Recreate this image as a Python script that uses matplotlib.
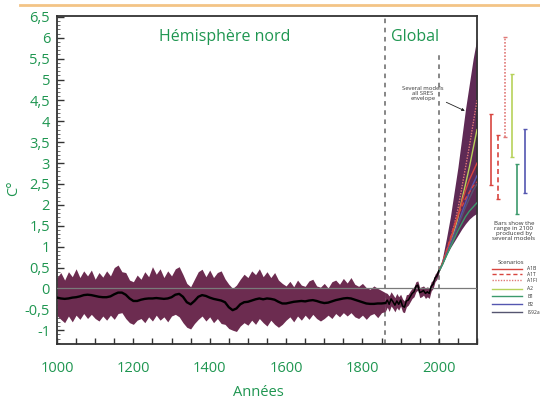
import numpy as np
import matplotlib
matplotlib.use("Agg")
import matplotlib.pyplot as plt
from matplotlib.ticker import FixedLocator, MultipleLocator

plt.rcParams['font.family'] = ['Open Sans', 'DejaVu Sans']

# ---------------- data ----------------
rec_years = list(range(1000, 1861, 10))
rec_smooth = [-0.22, -0.24, -0.25, -0.24, -0.22, -0.21, -0.19, -0.16, -0.15, -0.16,
              -0.18, -0.20, -0.21, -0.21, -0.19, -0.14, -0.10, -0.10, -0.15, -0.24,
              -0.30, -0.30, -0.27, -0.25, -0.24, -0.24, -0.23, -0.24, -0.25, -0.24,
              -0.21, -0.15, -0.13, -0.20, -0.33, -0.38, -0.30, -0.20, -0.16, -0.18,
              -0.22, -0.25, -0.27, -0.29, -0.33, -0.45, -0.52, -0.48, -0.38, -0.33,
              -0.32, -0.29, -0.26, -0.24, -0.26, -0.24, -0.25, -0.27, -0.32, -0.36,
              -0.36, -0.34, -0.32, -0.31, -0.30, -0.31, -0.29, -0.28, -0.30, -0.33,
              -0.35, -0.34, -0.31, -0.28, -0.26, -0.24, -0.23, -0.24, -0.27, -0.30,
              -0.33, -0.36, -0.37, -0.37, -0.36, -0.36, -0.35]
rec_upper = [0.26, 0.38, 0.20, 0.40, 0.28, 0.47, 0.26, 0.42, 0.30, 0.44,
             0.22, 0.38, 0.27, 0.42, 0.30, 0.50, 0.56, 0.40, 0.38, 0.20,
             0.16, 0.32, 0.22, 0.40, 0.28, 0.52, 0.34, 0.47, 0.26, 0.42,
             0.30, 0.47, 0.52, 0.33, 0.12, 0.04, 0.22, 0.40, 0.46, 0.28,
             0.44, 0.26, 0.38, 0.42, 0.23, 0.10, 0.00, 0.08, 0.22, 0.34,
             0.26, 0.42, 0.33, 0.47, 0.28, 0.40, 0.26, 0.38, 0.20, 0.12,
             0.06, 0.17, 0.04, 0.20, 0.08, 0.05, 0.18, 0.22, 0.06, 0.03,
             0.12, 0.01, 0.16, 0.20, 0.10, 0.24, 0.13, 0.26, 0.10, 0.05,
             0.12, 0.02, -0.02, 0.06, 0.00, -0.05, -0.10]
rec_lower = [-0.65, -0.74, -0.82, -0.66, -0.80, -0.64, -0.74, -0.60, -0.72, -0.62,
             -0.72, -0.78, -0.66, -0.76, -0.64, -0.74, -0.60, -0.58, -0.72, -0.82,
             -0.86, -0.76, -0.72, -0.82, -0.68, -0.78, -0.64, -0.76, -0.68, -0.80,
             -0.66, -0.62, -0.68, -0.82, -0.93, -0.97, -0.84, -0.74, -0.66, -0.78,
             -0.68, -0.82, -0.72, -0.84, -0.86, -0.96, -1.00, -1.03, -0.90, -0.82,
             -0.88, -0.76, -0.86, -0.72, -0.82, -0.90, -0.76, -0.86, -0.93, -0.86,
             -0.76, -0.68, -0.80, -0.66, -0.76, -0.64, -0.74, -0.62, -0.72, -0.78,
             -0.72, -0.64, -0.72, -0.60, -0.68, -0.58, -0.66, -0.58, -0.68, -0.72,
             -0.64, -0.74, -0.64, -0.60, -0.70, -0.58, -0.55]

obs_years = list(range(1860, 2001, 5))
obs_temp = [-0.35, -0.28, -0.38, -0.25, -0.32, -0.40, -0.30, -0.38, -0.28, -0.42,
            -0.45, -0.30, -0.28, -0.20, -0.12, -0.08, 0.05, 0.08, -0.10, -0.08,
            -0.05, -0.12, -0.08, -0.12, 0.05, 0.10, 0.25, 0.30, 0.42]
obs_upper = [-0.10, -0.12, -0.18, -0.08, -0.15, -0.22, -0.12, -0.20, -0.14, -0.25,
             -0.30, -0.15, -0.14, -0.06, 0.00, 0.04, 0.16, 0.18, 0.02, 0.04,
             0.06, 0.00, 0.04, 0.00, 0.16, 0.20, 0.34, 0.40, 0.50]
obs_lower = [-0.55, -0.45, -0.55, -0.42, -0.48, -0.56, -0.46, -0.52, -0.42, -0.56,
             -0.58, -0.44, -0.40, -0.32, -0.24, -0.20, -0.08, -0.04, -0.22, -0.20,
             -0.16, -0.24, -0.20, -0.24, -0.06, 0.00, 0.16, 0.22, 0.36]

proj_years = list(range(2000, 2101, 10))
env_upper = [0.40, 0.75, 1.20, 1.70, 2.30, 2.90, 3.60, 4.30, 4.90, 5.50, 6.00]
env_lower = [0.40, 0.60, 0.80, 0.97, 1.12, 1.27, 1.42, 1.55, 1.66, 1.74, 1.80]

scenarios = ['A1B', 'A1T', 'A1FI', 'A2', 'B1', 'B2', 'IS92a']
scen_values = {
    'A1FI': [0.40, 0.60, 0.85, 1.15, 1.50, 1.90, 2.40, 2.90, 3.40, 3.95, 4.50],
    'A2':   [0.40, 0.60, 0.80, 1.05, 1.35, 1.70, 2.10, 2.50, 2.90, 3.35, 3.80],
    'A1B':  [0.40, 0.62, 0.88, 1.15, 1.45, 1.75, 2.05, 2.35, 2.60, 2.80, 3.00],
    'A1T':  [0.40, 0.62, 0.90, 1.20, 1.50, 1.75, 1.95, 2.15, 2.30, 2.45, 2.55],
    'B2':   [0.40, 0.60, 0.82, 1.05, 1.30, 1.55, 1.80, 2.05, 2.30, 2.50, 2.70],
    'B1':   [0.40, 0.58, 0.78, 0.98, 1.18, 1.38, 1.55, 1.72, 1.85, 1.95, 2.05],
    'IS92a': [0.40, 0.58, 0.80, 1.00, 1.25, 1.50, 1.72, 1.95, 2.15, 2.35, 2.50],
}
# range in 2100 (low, high)
bar_scen = ['A1B', 'A1T', 'A1FI', 'A2', 'B1', 'B2']
bar_low = [2.48, 2.14, 3.62, 3.14, 1.79, 2.29]
bar_high = [4.17, 3.67, 6.02, 5.14, 2.98, 3.81]

yticks = [-1, -0.5, 0, 0.5, 1, 1.5, 2, 2.5, 3, 3.5, 4, 4.5, 5, 5.5, 6, 6.5]
ytick_labels = ['-1', '-0,5', '0', '0,5', '1', '1,5', '2', '2,5', '3', '3,5',
                '4', '4,5', '5', '5,5', '6', '6,5']
xticks = [1000, 1200, 1400, 1600, 1800, 2000]

# ---------------- style ----------------
GREEN = '#1f9651'
BAND = '#6c2c50'
scen_style = {
    'A1B': ('#d8453f', '-'),
    'A1T': ('#d8453f', (0, (3, 2))),
    'A1FI': ('#e07a78', (0, (1, 1))),
    'A2': ('#b7d25a', '-'),
    'B1': ('#3c9a6c', '-'),
    'B2': ('#5456b0', '-'),
    'IS92a': ('#555570', '-'),
}

W, H = 540, 400
fig = plt.figure(figsize=(W / 100, H / 100), dpi=100)

def fx(x):
    return x / W

def fy(y):
    return 1 - y / H

YMIN, YMAX = -1.33, 6.52
ax = fig.add_axes([fx(57), fy(344), (477 - 57) / W, (344 - 16) / H])
ax.set_xlim(1000, 2100)
ax.set_ylim(YMIN, YMAX)

# reconstruction band + smooth
ax.fill_between(rec_years, rec_lower, rec_upper, color=BAND, lw=0, zorder=2)
ax.fill_between(obs_years, obs_lower, obs_upper, color=BAND, lw=0, zorder=2)
ax.axhline(0, color='#7a7a7a', lw=0.9, zorder=3)
ax.plot(rec_years, rec_smooth, color='black', lw=1.7, zorder=4)
ax.plot(obs_years, obs_temp, color='black', lw=1.1, zorder=4)

# projections
ax.fill_between(proj_years, env_lower, env_upper, color='#5e2a55', lw=0, zorder=2)
for s in ['A1FI', 'A2', 'A1B', 'B2', 'A1T', 'IS92a', 'B1']:
    c, ls = scen_style[s]
    ax.plot(proj_years, scen_values[s], color=c, ls=ls, lw=1.0, zorder=3)

# reference dashed lines
ax.axvline(1860, color='#666666', lw=1.1, ls=(0, (3, 3)), zorder=1)
ax.vlines(2000, YMIN, 5.65, color='#666666', lw=1.1, ls=(0, (3, 3)), zorder=1)

# axes styling
for sp in ax.spines.values():
    sp.set_color('#333333')
    sp.set_linewidth(1.3)
ax.yaxis.set_major_locator(FixedLocator(yticks))
ax.set_yticklabels(ytick_labels)
ax.yaxis.set_minor_locator(MultipleLocator(0.1))
ax.xaxis.set_major_locator(FixedLocator(xticks))
ax.set_xticklabels([str(v) for v in xticks])
ax.xaxis.set_minor_locator(MultipleLocator(50))
ax.tick_params(axis='y', which='major', direction='in', length=5, width=1,
               colors='#333333', labelcolor=GREEN, labelsize=10.5, pad=5)
ax.tick_params(axis='y', which='minor', direction='in', length=2.5, width=0.6,
               colors='#555555')
ax.tick_params(axis='x', which='both', direction='in', length=4, width=1,
               colors='#333333', labelcolor=GREEN, labelsize=10.5, pad=12)

ax.text(1440, 6.02, 'Hémisphère nord', color=GREEN, fontsize=11.5,
        ha='center', va='center')
ax.text(1938, 6.02, 'Global', color=GREEN, fontsize=11.5,
        ha='center', va='center')

ax.annotate('Several models\nall SRES\nenvelope', xy=(2068, 4.25), xytext=(1958, 4.67),
            fontsize=4.2, color='#333333', ha='center', va='center',
            linespacing=1.05,
            arrowprops=dict(arrowstyle='-|>', color='#222222', lw=0.6,
                            mutation_scale=4, shrinkA=0, shrinkB=0,
                            relpos=(1.0, 0.0)))

fig.text(fx(258), fy(392), 'Années', color=GREEN, fontsize=10.5,
         ha='center', va='center')
fig.text(fx(14), fy(188), 'C°', color=GREEN, fontsize=10.5, rotation=90,
         ha='center', va='center')

# top orange rule
fig.add_artist(plt.Line2D([fx(20), 1], [fy(4.5), fy(4.5)], color='#f3c486',
                          lw=2.0, transform=fig.transFigure))

# side panel bars
ax2 = fig.add_axes([fx(482), fy(344), (540 - 482) / W, (344 - 16) / H])
ax2.set_xlim(0, 58)
ax2.set_ylim(YMIN, YMAX)
ax2.axis('off')
bar_x = [9, 16, 23, 30, 35, 43]
for s, x, lo, hi in zip(bar_scen, bar_x, bar_low, bar_high):
    c, ls = scen_style[s]
    ax2.vlines(x, lo, hi, color=c, lw=1.2, ls=ls)
    ax2.hlines([lo, hi], x - 1.8, x + 1.8, color=c, lw=1.0)

fig.text(fx(514), fy(231), 'Bars show the\nrange in 2100\nproduced by\nseveral models',
         fontsize=4.4, color='#333333', ha='center', va='center', linespacing=1.05)
fig.text(fx(511), fy(262), 'Scenarios', fontsize=4.2, color='#333333',
         ha='center', va='center')
leg_y = [269, 274, 280, 289, 296, 304, 312]
for s, yy in zip(scenarios, leg_y):
    c, ls = scen_style[s]
    fig.add_artist(plt.Line2D([fx(492), fx(522)], [fy(yy), fy(yy)], color=c,
                              lw=1.0, ls=ls, transform=fig.transFigure))
    fig.text(fx(527), fy(yy), s, fontsize=3.6, color='#333333', ha='left',
             va='center')

fig.savefig('out.png', dpi=100)
